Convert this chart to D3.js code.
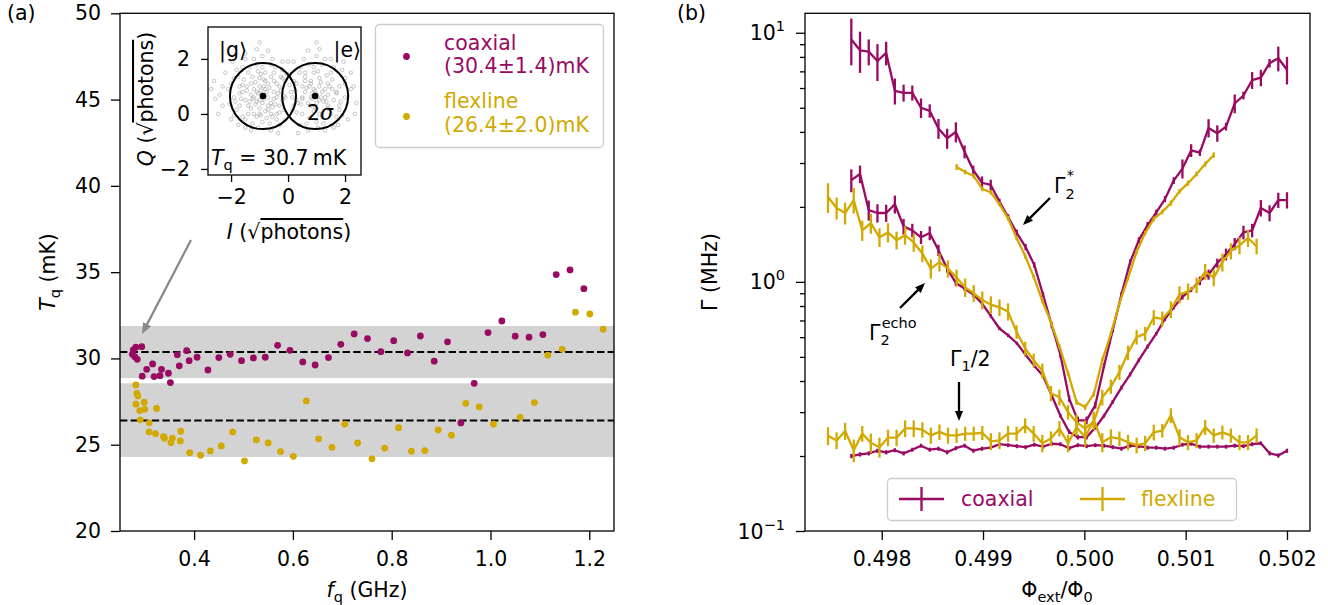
<!DOCTYPE html>
<html><head><meta charset="utf-8">
<script src="https://cdn.jsdelivr.net/npm/d3@7"></script>
<style>
body{margin:0;background:#fff;}
svg{display:block;font-family:"DejaVu Sans",sans-serif;}
</style></head><body>
<svg id="c" width="1328" height="605"></svg>
<script>
// ---------- Panel (a) data ----------
const freqCoax = [0.277,0.282,0.294,0.275,0.280,0.285,0.304,0.316,0.295,0.319,0.331,0.334,0.348,0.352,0.366,0.370,0.385,0.390,0.406,0.428,0.450,0.473,0.496,0.520,0.544,0.569,0.594,0.620,0.645,0.672,0.697,0.724,0.751,0.778,0.804,0.832,0.858,0.886,0.913,0.940,0.967,0.995,1.023,1.050,1.078,1.106,1.133,1.161,1.189];
const tempCoax = [30.49,30.65,30.68,30.24,30.10,29.95,29.37,29.68,28.97,28.95,29.00,29.37,29.14,28.60,30.22,29.57,30.45,29.87,30.07,29.33,30.05,30.24,29.87,30.03,30.07,30.76,30.47,29.80,29.62,30.05,30.82,31.42,31.15,30.39,31.03,30.32,31.30,29.84,30.96,26.26,28.56,31.50,32.17,31.29,31.23,31.38,34.86,35.13,34.04];
const freqFlex = [0.282,0.284,0.286,0.282,0.299,0.290,0.300,0.324,0.291,0.309,0.309,0.322,0.338,0.340,0.356,0.353,0.372,0.373,0.391,0.413,0.433,0.455,0.478,0.502,0.526,0.550,0.575,0.601,0.627,0.652,0.679,0.705,0.731,0.760,0.786,0.814,0.840,0.867,0.894,0.921,0.950,0.977,1.006,1.060,1.089,1.116,1.145,1.172,1.201,1.228];
const tempFlex = [28.46,27.98,27.83,27.35,27.46,26.98,27.06,27.10,26.44,26.27,25.74,25.64,25.47,25.38,25.38,25.12,25.22,25.78,24.54,24.39,24.64,24.93,25.74,24.06,25.28,25.10,24.60,24.33,27.54,25.34,24.85,26.19,25.10,24.18,24.80,25.99,24.62,24.66,25.86,25.55,27.40,27.19,26.20,26.59,27.44,30.19,30.53,32.68,32.58,31.69];
const meanCoax = 30.37, meanFlex = 26.40;
const bandCoax = [28.86, 31.88];
const bandFlex = [24.29, 28.56];
const legendA = ["coaxial", "(30.4±1.4)mK", "flexline", "(26.4±2.0)mK"];
const fTicks = [0.4, 0.6, 0.8, 1.0, 1.2];
const tTicks = [20, 25, 30, 35, 40, 45, 50];

// inset: single-shot IQ cloud (|g> and |e>)
const iqG = [[-0.9,0.7],[-1.2,0.9],[-0.6,0.4],[-1.5,0.5],[-0.3,1.0],[-1.0,1.3],[-0.8,0.1],[-1.7,1.0],[-0.5,1.5],[-1.3,0.2],[-0.2,0.5],[-1.1,-0.1],[-0.7,1.1],[-1.9,0.6],[-0.4,0.0],[-1.4,1.5],[-0.9,-0.3],[-0.1,1.2],[-1.6,-0.1],[-0.6,1.8],[-2.1,0.9],[-1.0,0.5],[-0.8,0.9],[-1.2,0.6],[-0.5,0.8],[-1.3,1.1],[-0.7,0.3],[0.1,0.8],[-2.3,0.3],[-1.8,1.6],[-0.3,-0.4],[-1.1,1.8],[-0.2,1.6],[-1.5,-0.5],[-0.9,2.1],[-2.0,-0.2],[0.2,0.3],[-1.6,0.8],[-0.4,0.6],[-1.0,0.0],[-0.6,-0.6],[-2.4,0.7],[-1.2,2.0],[0.0,1.9],[-1.4,0.0],[-0.8,1.5],[-0.3,0.3],[-1.7,0.3],[-1.1,0.8],[-0.5,1.2],[-0.9,0.4],[-1.3,0.7],[-0.7,0.6],[-1.0,1.0],[-0.6,0.0],[-1.9,1.3],[0.3,1.1],[-2.6,1.2],[-1.5,2.2],[-0.4,-0.2],[-1.15,0.35],[-0.85,1.25],[-1.45,0.85],[-0.55,0.25],[-1.05,0.75],[-0.75,0.8],[-1.25,1.35],[-0.35,0.75],[-1.65,0.55],[-0.95,-0.05],[-1.35,0.45],[-0.65,0.95],[-1.05,1.55],[-0.45,0.35],[-1.55,1.25],[-0.25,0.85],[-1.85,0.45],[-0.75,-0.15],[-1.25,-0.35],[-0.15,0.15],[-2.2,1.5],[-0.55,2.0],[-1.75,-0.4],[-0.05,1.45],[-2.45,0.0],[-1.1,2.35],[-0.35,-0.7],[-1.95,1.9],[0.15,0.6],[-2.55,0.55],[-0.85,0.55],[-1.15,1.15],[-0.6,1.35],[-1.4,0.3],[-0.95,0.85],[-1.6,1.7],[-0.2,1.9],[-1.3,-0.6],[-0.7,2.3],[-2.0,1.1],[0.35,0.4],[-1.05,-0.5],[-1.8,0.15],[-0.45,1.7],[-1.5,2.0],[-0.8,1.2],[-1.2,0.0],[-0.5,0.55],[-1.7,0.75],[-0.9,1.7],[0.05,1.05],[-2.3,1.0],[-0.3,0.05],[-1.45,1.0],[-0.65,-0.35],[-1.0,2.6],[-2.7,0.9],[-0.1,-0.2],[-1.9,-0.05],[0.4,1.5],[-1.25,0.55],[-0.7,0.15],[-1.6,1.05],[-0.4,1.1],[-1.0,0.2],[-0.85,1.0],[-1.35,1.7],[-0.15,0.65],[-2.05,0.35],[-1.1,0.45],[-0.55,-0.1],[-1.75,1.35],[-0.95,1.45],[-0.25,1.35],[-1.5,-0.2]];
const iqE = [[1.0,0.7],[1.3,0.9],[0.7,0.4],[1.6,0.5],[0.5,1.0],[1.1,1.3],[0.9,0.1],[1.8,1.0],[0.6,1.5],[1.4,0.2],[0.3,0.5],[1.2,-0.1],[0.8,1.1],[2.0,0.6],[0.5,0.0],[1.5,1.5],[1.0,-0.3],[0.2,1.2],[1.7,-0.1],[0.7,1.8],[2.2,0.9],[1.1,0.5],[0.9,0.9],[1.3,0.6],[0.6,0.8],[1.4,1.1],[0.8,0.3],[2.4,0.4],[1.9,1.6],[0.4,-0.4],[1.2,1.8],[1.6,-0.5],[1.0,2.1],[2.1,-0.2],[1.7,0.8],[0.5,0.6],[1.1,0.0],[0.7,-0.6],[1.3,2.0],[1.5,0.0],[0.9,1.5],[1.8,0.3],[1.2,0.8],[0.6,1.2],[1.0,0.4],[1.4,0.7],[0.8,0.6],[1.1,1.0],[2.0,1.3],[1.25,0.45],[0.85,0.75],[1.35,0.45],[0.65,0.95],[1.05,1.55],[0.45,0.35],[1.55,1.25],[0.25,0.85],[1.85,0.45],[0.75,-0.15],[1.25,-0.35],[0.15,0.15],[2.2,1.5],[0.55,2.0],[1.75,-0.4],[0.05,1.45],[2.35,0.0],[1.1,2.35],[0.35,-0.7],[1.95,1.9],[-0.1,0.6],[0.85,0.55],[1.15,1.15],[0.6,1.35],[1.4,0.3],[0.95,0.85],[1.6,1.7],[0.2,1.9],[1.3,-0.6],[0.7,2.3],[2.0,1.1],[1.05,-0.5],[1.8,0.15],[0.45,1.7],[1.5,2.0],[0.8,1.2],[1.2,0.0],[0.5,0.55],[1.7,0.75],[0.9,1.7],[2.3,1.0],[0.3,0.05],[1.45,1.0],[0.65,-0.35],[1.0,2.6],[-0.2,1.3],[1.9,-0.05],[1.15,0.6],[0.75,1.0],[1.55,0.9],[0.95,0.25],[1.35,1.4]];
const iqCenters = [[-0.88, 0.65], [0.95, 0.65]];
const iqRadius = 1.16;
const iqTicks = [-2, 0, 2];

// ---------- Panel (b) data ----------
const phiCoax = [0.497700,0.497786,0.497872,0.497958,0.498044,0.498130,0.498216,0.498302,0.498388,0.498474,0.498560,0.498646,0.498732,0.498818,0.498904,0.498990,0.499076,0.499162,0.499248,0.499334,0.499420,0.499506,0.499592,0.499678,0.499764,0.499850,0.499936,0.500022,0.500108,0.500194,0.500280,0.500366,0.500452,0.500538,0.500624,0.500710,0.500796,0.500882,0.500968,0.501054,0.501140,0.501226,0.501312,0.501398,0.501484,0.501570,0.501656,0.501742,0.501828,0.501914,0.502000];
const coaxStar = [9.4,8.5,8.4,7.7,8.3,5.85,5.74,5.74,5.0,4.86,4.13,3.77,4.0,3.33,2.81,2.5,2.45,2.1,1.82,1.57,1.38,1.17,0.89,0.67,0.51,0.34,0.278,0.278,0.32,0.46,0.64,0.89,1.2,1.47,1.69,1.9,2.15,2.55,2.85,3.37,3.3,4.15,3.95,4.2,5.2,5.6,6.45,6.6,7.55,7.9,7.1];
const coaxStarErr = [2.0,1.6,1.0,1.3,0.9,0.7,0.45,0.4,0.45,0.3,0.38,0.35,0.37,0.2,0.12,0.15,0.12,0.06,0.05,0.05,0.04,0.03,0.02,0.02,0.015,0.01,0.01,0.01,0.01,0.01,0.015,0.02,0.03,0.04,0.05,0.05,0.06,0.08,0.25,0.2,0.1,0.35,0.3,0.15,0.45,0.2,0.5,0.5,0.3,0.9,0.9];
const coaxEcho = [2.56,2.71,1.94,1.89,1.89,2.05,1.67,1.61,1.51,1.57,1.34,1.13,0.99,0.94,0.89,0.82,0.73,0.65,0.61,0.567,0.51,0.46,0.42,0.35,0.29,0.25,0.238,0.238,0.26,0.29,0.33,0.376,0.425,0.485,0.55,0.62,0.71,0.79,0.87,0.93,1.01,1.07,1.19,1.29,1.42,1.58,1.61,1.98,1.89,2.13,2.13];
const coaxEchoErr = [0.27,0.22,0.18,0.16,0.15,0.17,0.12,0.1,0.09,0.1,0.07,0.04,0.03,0.02,0.02,0.015,0.012,0.01,0.01,0.008,0.008,0.007,0.006,0.006,0.005,0.005,0.005,0.005,0.005,0.005,0.006,0.007,0.008,0.009,0.01,0.01,0.012,0.015,0.02,0.02,0.04,0.05,0.05,0.07,0.08,0.1,0.1,0.15,0.14,0.15,0.16];
const coaxG1 = [0.200,0.203,0.205,0.210,0.207,0.211,0.205,0.212,0.220,0.212,0.214,0.207,0.215,0.220,0.210,0.214,0.216,0.223,0.221,0.219,0.217,0.222,0.218,0.224,0.223,0.215,0.221,0.219,0.221,0.220,0.217,0.214,0.220,0.219,0.216,0.216,0.214,0.216,0.222,0.224,0.218,0.218,0.218,0.218,0.220,0.219,0.223,0.225,0.205,0.201,0.210];
const coaxG1Err = [0.004,0.004,0.004,0.004,0.004,0.004,0.004,0.004,0.004,0.004,0.004,0.004,0.004,0.004,0.004,0.004,0.004,0.004,0.004,0.004,0.004,0.004,0.004,0.004,0.004,0.004,0.004,0.004,0.004,0.004,0.004,0.004,0.004,0.004,0.004,0.004,0.004,0.004,0.004,0.004,0.004,0.004,0.004,0.004,0.004,0.004,0.004,0.004,0.004,0.004,0.004];

const phiFlex = [0.497470,0.497555,0.497639,0.497724,0.497808,0.497893,0.497978,0.498062,0.498147,0.498231,0.498316,0.498401,0.498485,0.498570,0.498654,0.498739,0.498824,0.498908,0.498993,0.499077,0.499162,0.499247,0.499331,0.499416,0.499500,0.499585,0.499670,0.499754,0.499839,0.499923,0.500008,0.500093,0.500177,0.500262,0.500346,0.500431,0.500516,0.500600,0.500685,0.500769,0.500854,0.500939,0.501023,0.501108,0.501192,0.501277,0.501362,0.501446,0.501531,0.501615,0.501700];
const flexStar = [null,null,null,null,null,null,null,null,null,null,null,null,null,null,null,2.89,2.76,2.66,2.36,2.29,2.05,1.80,1.50,1.27,1.05,0.84,0.69,0.55,0.43,0.329,0.314,0.354,0.485,0.62,0.82,1.035,1.32,1.57,1.79,1.91,2.07,2.31,2.49,2.71,2.97,3.23,null,null,null,null,null];
const flexStarErr = [null,null,null,null,null,null,null,null,null,null,null,null,null,null,null,0.08,0.06,0.06,0.05,0.05,0.04,0.04,0.03,0.03,0.02,0.02,0.015,0.012,0.01,0.008,0.008,0.008,0.01,0.012,0.015,0.02,0.025,0.03,0.04,0.04,0.05,0.05,0.06,0.06,0.07,0.08,null,null,null,null,null];
const flexEcho = [2.19,1.98,1.89,2.13,1.61,1.72,1.51,1.58,1.47,1.54,1.44,1.30,1.13,1.20,1.13,1.04,0.95,0.90,0.845,0.81,0.79,0.76,0.63,0.54,0.485,0.44,0.357,0.344,0.30,0.273,0.258,0.275,0.344,0.38,0.434,0.52,0.60,0.62,0.72,0.71,0.776,0.89,0.916,0.97,1.10,1.04,1.20,1.33,1.40,1.50,1.39];
const flexEchoErr = [0.3,0.2,0.19,0.25,0.15,0.16,0.13,0.14,0.12,0.13,0.12,0.1,0.1,0.1,0.09,0.08,0.08,0.07,0.07,0.065,0.06,0.06,0.04,0.035,0.03,0.03,0.025,0.025,0.02,0.02,0.02,0.02,0.025,0.025,0.03,0.035,0.04,0.04,0.05,0.05,0.06,0.07,0.07,0.07,0.08,0.08,0.1,0.1,0.11,0.12,0.1];
const flexG1 = [0.241,0.231,0.252,0.211,0.246,0.226,0.217,0.237,0.237,0.258,0.258,0.255,0.242,0.250,0.242,0.242,0.246,0.246,0.248,0.229,0.231,0.246,0.246,0.265,0.246,0.225,0.235,0.258,0.225,0.261,0.238,0.279,0.227,0.238,0.235,0.227,0.221,0.225,0.249,0.253,0.291,0.238,0.227,0.231,0.261,0.242,0.249,0.242,0.227,0.227,0.242];
const flexG1Err = [0.02,0.018,0.02,0.022,0.018,0.02,0.02,0.018,0.018,0.02,0.02,0.018,0.018,0.018,0.018,0.016,0.016,0.016,0.016,0.018,0.018,0.018,0.016,0.018,0.018,0.018,0.016,0.018,0.018,0.02,0.02,0.022,0.02,0.018,0.016,0.016,0.016,0.016,0.018,0.016,0.02,0.018,0.016,0.016,0.018,0.016,0.016,0.016,0.016,0.016,0.016];
const phiTicks = [0.498, 0.499, 0.500, 0.501, 0.502];
const gammaMajor = [0.1, 1, 10];
const gammaMinor = [0.2,0.3,0.4,0.5,0.6,0.7,0.8,0.9,2,3,4,5,6,7,8,9];
const legendB = ["coaxial", "flexline"];

// ---------- drawing ----------
const FS = 20.5, FSS = 14.5;
const coaxColor = "#990a62";
const flexColor = "#d2a900";
const svg = d3.select("#c");

function styleAxis(g) {
  g.attr("font-size", FS).attr("font-family", "DejaVu Sans, sans-serif");
  g.select(".domain").remove();
  g.selectAll(".tick line").attr("stroke", "#000").attr("stroke-width", 1.3);
  g.selectAll(".tick text").attr("fill", "#000");
}
function arrow(g, x1, y1, x2, y2, color, lw, hl, hw) {
  const dx = x2 - x1, dy = y2 - y1, L = Math.hypot(dx, dy);
  const ux = dx / L, uy = dy / L;
  const bx = x2 - ux * hl, by = y2 - uy * hl;
  g.append("line").attr("x1", x1).attr("y1", y1).attr("x2", bx + ux).attr("y2", by + uy)
    .attr("stroke", color).attr("stroke-width", lw);
  g.append("path").attr("d", `M${x2},${y2}L${bx - uy*hw/2},${by + ux*hw/2}L${bx + uy*hw/2},${by - ux*hw/2}Z`)
    .attr("fill", color);
}
const minus = d => (d < 0 ? "\u2212" + Math.abs(d) : String(d));

// ===== Panel (a) =====
const xA = d3.scaleLinear().domain([0.25, 1.25]).range([120, 614]);
const yA = d3.scaleLinear().domain([20, 50]).range([531, 13.3]);
const gA = svg.append("g");
gA.append("rect").attr("x", xA(0.25)).attr("width", xA(1.25) - xA(0.25))
  .attr("y", yA(bandCoax[1])).attr("height", yA(bandCoax[0]) - yA(bandCoax[1])).attr("fill", "#d3d3d3");
gA.append("rect").attr("x", xA(0.25)).attr("width", xA(1.25) - xA(0.25))
  .attr("y", yA(bandFlex[1])).attr("height", yA(bandFlex[0]) - yA(bandFlex[1])).attr("fill", "#d3d3d3");
[meanCoax, meanFlex].forEach(m => {
  gA.append("line").attr("x1", xA(0.25)).attr("x2", xA(1.25)).attr("y1", yA(m)).attr("y2", yA(m))
    .attr("stroke", "#000").attr("stroke-width", 2).attr("stroke-dasharray", "7.4,3.2");
});
gA.selectAll(".pc").data(freqCoax).join("circle").attr("cx", d => xA(d)).attr("cy", (d, i) => yA(tempCoax[i]))
  .attr("r", 3.4).attr("fill", coaxColor);
gA.selectAll(".pf").data(freqFlex).join("circle").attr("cx", d => xA(d)).attr("cy", (d, i) => yA(tempFlex[i]))
  .attr("r", 3.4).attr("fill", flexColor);

const axXA = gA.append("g").attr("transform", `translate(0,${yA(20)})`)
  .call(d3.axisBottom(xA).tickValues(fTicks).tickSize(9).tickPadding(11).tickFormat(d3.format(".1f")));
styleAxis(axXA);
const axYA = gA.append("g").attr("transform", `translate(${xA(0.25)},0)`)
  .call(d3.axisLeft(yA).tickValues(tTicks).tickSize(9).tickPadding(10).tickFormat(d3.format("d")));
styleAxis(axYA);
gA.append("rect").attr("x", 120).attr("y", 13.3).attr("width", 494).attr("height", 531 - 13.3)
  .attr("fill", "none").attr("stroke", "#000").attr("stroke-width", 1.3);

// labels
svg.append("text").attr("x", 7).attr("y", 20).attr("font-size", FS).text("(a)");
const ylA = svg.append("text").attr("transform", "translate(55,272) rotate(-90)").attr("text-anchor", "middle").attr("font-size", FS);
ylA.append("tspan").attr("font-style", "italic").text("T");
ylA.append("tspan").attr("font-size", FSS).attr("dy", 5).text("q");
ylA.append("tspan").attr("dy", -5).text(" (mK)");
const xlA = svg.append("text").attr("x", 367).attr("y", 597).attr("text-anchor", "middle").attr("font-size", FS);
xlA.append("tspan").attr("font-style", "italic").text("f");
xlA.append("tspan").attr("font-size", FSS).attr("dy", 5).text("q");
xlA.append("tspan").attr("dy", -5).text(" (GHz)");

// legend (a)
const lgA = svg.append("g");
lgA.append("rect").attr("x", 375.5).attr("y", 24.5).attr("width", 228).attr("height", 123).attr("rx", 4)
  .attr("fill", "#fff").attr("fill-opacity", 0.85).attr("stroke", "#cccccc").attr("stroke-width", 1.3);
lgA.append("circle").attr("cx", 406.5).attr("cy", 56.5).attr("r", 3.4).attr("fill", coaxColor);
lgA.append("circle").attr("cx", 406.5).attr("cy", 116.5).attr("r", 3.4).attr("fill", flexColor);
[[legendA[0], 50, coaxColor], [legendA[1], 73, coaxColor], [legendA[2], 108, flexColor], [legendA[3], 131.5, flexColor]]
  .forEach(([t, y, c]) => lgA.append("text").attr("x", 444).attr("y", y).attr("font-size", FS).attr("fill", c).text(t));

// gray arrow from inset to data
arrow(svg, 191, 240, 142, 334, "#888888", 2.2, 11, 9);

// ===== inset =====
const xI = d3.scaleLinear().domain([-2.81, 2.56]).range([208, 361]);
const yI = d3.scaleLinear().domain([-2.22, 3.16]).range([175, 27]);
const gI = svg.append("g");
gI.append("rect").attr("x", 208).attr("y", 27).attr("width", 153).attr("height", 148).attr("fill", "#fff");
gI.selectAll(".ig").data(iqG.concat(iqE)).join("circle").attr("cx", d => xI(d[0])).attr("cy", d => yI(d[1]))
  .attr("r", 1.8).attr("fill", "none").attr("stroke", "#8a8a8a").attr("stroke-opacity", 0.6).attr("stroke-width", 0.8);
iqCenters.forEach(c => {
  gI.append("circle").attr("cx", xI(c[0])).attr("cy", yI(c[1])).attr("r", xI(iqRadius) - xI(0))
    .attr("fill", "none").attr("stroke", "#000").attr("stroke-width", 2);
  gI.append("circle").attr("cx", xI(c[0])).attr("cy", yI(c[1])).attr("r", 3.3).attr("fill", "#000");
});
gI.append("text").attr("x", 219).attr("y", 57).attr("font-size", FS).text("|g⟩");
gI.append("text").attr("x", 361).attr("y", 57).attr("text-anchor", "end").attr("font-size", FS).text("|e⟩");
const sig = gI.append("text").attr("x", 307).attr("y", 120).attr("font-size", FS);
sig.append("tspan").text("2");
sig.append("tspan").attr("font-style", "italic").text("σ");
const tqI = gI.append("text").attr("x", 211).attr("y", 165).attr("font-size", FS);
tqI.append("tspan").attr("font-style", "italic").text("T");
tqI.append("tspan").attr("font-size", FSS).attr("dy", 5).text("q");
tqI.append("tspan").attr("dy", -5).text(" = 30.7\u2009mK");
const axXI = gI.append("g").attr("transform", "translate(0,175)")
  .call(d3.axisBottom(xI).tickValues(iqTicks).tickSize(7).tickPadding(7).tickFormat(minus));
styleAxis(axXI);
const axYI = gI.append("g").attr("transform", "translate(208,0)")
  .call(d3.axisLeft(yI).tickValues(iqTicks).tickSize(7).tickPadding(11).tickFormat(minus));
styleAxis(axYI);
gI.append("rect").attr("x", 208).attr("y", 27).attr("width", 153).attr("height", 148)
  .attr("fill", "none").attr("stroke", "#000").attr("stroke-width", 1.3);
const qlab = svg.append("text").attr("transform", "translate(153,99) rotate(-90)").attr("text-anchor", "middle").attr("font-size", FS);
qlab.append("tspan").attr("font-style", "italic").text("Q");
qlab.append("tspan").text(" (√");
qlab.append("tspan").style("text-decoration", "overline").text("photons");
qlab.append("tspan").text(")");
const ilab = svg.append("text").attr("x", 289).attr("y", 239).attr("text-anchor", "middle").attr("font-size", FS);
ilab.append("tspan").attr("font-style", "italic").text("I");
ilab.append("tspan").text(" (√");
ilab.append("tspan").style("text-decoration", "overline").text("photons");
ilab.append("tspan").text(")");

// ===== Panel (b) =====
const xB = d3.scaleLinear().domain([0.497243, 0.502227]).range([805, 1310]);
const yB = d3.scaleLog().domain([0.1, 11.97]).range([531, 13.3]);
const gB = svg.append("g");

function series(phis, vals, errs, color) {
  const pts = phis.map((p, i) => ({ p, v: vals[i], e: errs[i] })).filter(d => d.v != null);
  const g = gB.append("g");
  g.append("path").datum(pts).attr("d", d3.line().x(d => xB(d.p)).y(d => yB(d.v)))
    .attr("fill", "none").attr("stroke", color).attr("stroke-width", 2.3).attr("stroke-linejoin", "round");
  g.selectAll("line").data(pts).join("line")
    .attr("x1", d => xB(d.p)).attr("x2", d => xB(d.p))
    .attr("y1", d => yB(Math.max(d.v - d.e, 0.05))).attr("y2", d => yB(d.v + d.e))
    .attr("stroke", color).attr("stroke-width", 2.3);
}
series(phiCoax, coaxStar, coaxStarErr, coaxColor);
series(phiCoax, coaxEcho, coaxEchoErr, coaxColor);
series(phiCoax, coaxG1, coaxG1Err, coaxColor);
series(phiFlex, flexStar, flexStarErr, flexColor);
series(phiFlex, flexEcho, flexEchoErr, flexColor);
series(phiFlex, flexG1, flexG1Err, flexColor);

const axXB = gB.append("g").attr("transform", "translate(0,531)")
  .call(d3.axisBottom(xB).tickValues(phiTicks).tickSize(9).tickPadding(11).tickFormat(d3.format(".3f")));
styleAxis(axXB);
const axYB = gB.append("g").attr("transform", "translate(805,0)")
  .call(d3.axisLeft(yB).tickValues(gammaMajor).tickSize(9).tickFormat(() => ""));
styleAxis(axYB);
const axYBm = gB.append("g").attr("transform", "translate(805,0)")
  .call(d3.axisLeft(yB).tickValues(gammaMinor).tickSize(5).tickFormat(() => ""));
styleAxis(axYBm);
gammaMajor.forEach(v => {
  const t = gB.append("text").attr("x", 785).attr("y", yB(v) + 7.5).attr("text-anchor", "end").attr("font-size", FS);
  t.append("tspan").text("10");
  t.append("tspan").attr("font-size", FSS).attr("dy", -9).text(minus(Math.round(Math.log10(v))));
});
gB.append("rect").attr("x", 805).attr("y", 13.3).attr("width", 505).attr("height", 531 - 13.3)
  .attr("fill", "none").attr("stroke", "#000").attr("stroke-width", 1.3);

svg.append("text").attr("x", 677).attr("y", 20).attr("font-size", FS).text("(b)");
svg.append("text").attr("transform", "translate(717,272) rotate(-90)").attr("text-anchor", "middle").attr("font-size", FS).text("Γ (MHz)");
const xlB = svg.append("text").attr("x", 1057).attr("y", 597).attr("text-anchor", "middle").attr("font-size", FS);
xlB.append("tspan").text("Φ");
xlB.append("tspan").attr("font-size", FSS).attr("dy", 5).text("ext");
xlB.append("tspan").attr("dy", -5).text("/Φ");
xlB.append("tspan").attr("font-size", FSS).attr("dy", 5).text("0");

// annotations
const aStar = svg.append("text").attr("x", 1054).attr("y", 193).attr("font-size", FS);
aStar.append("tspan").text("Γ");
aStar.append("tspan").attr("font-size", FSS).attr("dy", 6).text("2");
aStar.append("tspan").attr("font-size", FSS).attr("dx", -8).attr("dy", -19).text("*");
arrow(svg, 1050, 198, 1023, 225, "#000", 2.3, 10, 8);
const aEcho = svg.append("text").attr("x", 869).attr("y", 340).attr("font-size", FS);
aEcho.append("tspan").text("Γ");
aEcho.append("tspan").attr("font-size", FSS).attr("dy", 5).text("2");
aEcho.append("tspan").attr("font-size", FSS).attr("dx", -8).attr("dy", -17).text("echo");
arrow(svg, 900, 308, 925, 283, "#000", 2.3, 10, 8);
const aG1 = svg.append("text").attr("x", 950).attr("y", 366).attr("font-size", FS);
aG1.append("tspan").text("Γ");
aG1.append("tspan").attr("font-size", FSS).attr("dy", 5).text("1");
aG1.append("tspan").attr("dy", -5).text("/2");
arrow(svg, 959, 382, 959, 421, "#000", 2.3, 10, 8);

// legend (b)
const lgB = svg.append("g");
lgB.append("rect").attr("x", 887.5).attr("y", 478.5).attr("width", 349).attr("height", 42).attr("rx", 4)
  .attr("fill", "#fff").attr("fill-opacity", 0.85).attr("stroke", "#cccccc").attr("stroke-width", 1.3);
[[legendB[0], 899, 961, coaxColor], [legendB[1], 1080, 1141, flexColor]].forEach(([t, x0, tx, c]) => {
  lgB.append("line").attr("x1", x0).attr("x2", x0 + 45).attr("y1", 499).attr("y2", 499).attr("stroke", c).attr("stroke-width", 2.3);
  lgB.append("line").attr("x1", x0 + 22.5).attr("x2", x0 + 22.5).attr("y1", 487).attr("y2", 511).attr("stroke", c).attr("stroke-width", 2.3);
  lgB.append("text").attr("x", tx).attr("y", 506).attr("font-size", FS).attr("fill", c).text(t);
});
</script>
</body></html>
